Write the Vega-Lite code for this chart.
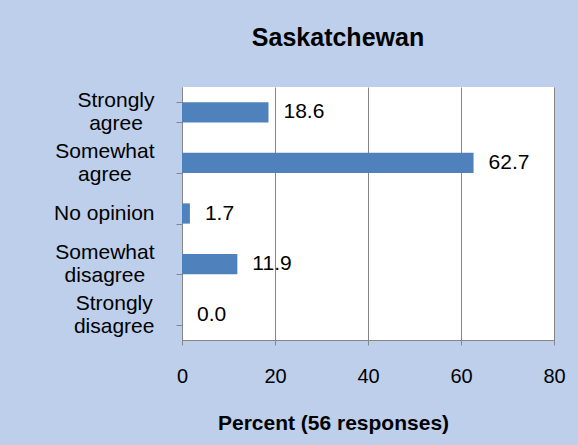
{
  "$schema": "https://vega.github.io/schema/vega-lite/v6.json",
  "autosize": "none",
  "width": 372,
  "height": 253,
  "padding": {"left": 182, "top": 87, "right": 24, "bottom": 105},
  "background": "#bdcfeb",
  "config": {
    "font": "Liberation Sans",
    "view": {"fill": "white", "stroke": null}
  },
  "title": {
    "text": "Saskatchewan",
    "font": "Liberation Sans",
    "fontSize": 25,
    "fontWeight": "bold",
    "color": "black",
    "anchor": "middle",
    "dx": -30,
    "baseline": "alphabetic",
    "offset": 5
  },
  "data": {
    "values": [
      {"response": "Strongly|agree", "percent": 18.6},
      {"response": "Somewhat|agree", "percent": 62.7},
      {"response": "No opinion", "percent": 1.7},
      {"response": "Somewhat|disagree", "percent": 11.9},
      {"response": "Strongly|disagree", "percent": 0.0}
    ]
  },
  "encoding": {
    "y": {
      "field": "response",
      "type": "nominal",
      "sort": null,
      "scale": {"paddingInner": 0.6, "paddingOuter": 0.3},
      "axis": {
        "title": null,
        "labelExpr": "split(datum.label, '|')",
        "labelFontSize": 21,
        "labelColor": "black",
        "labelLineHeight": 23,
        "labelAlign": "center",
        "labelPadding": {
          "condition": [
            {"test": "datum.value == 'Strongly|agree'", "value": 60.5},
            {"test": "datum.value == 'Strongly|disagree'", "value": 62.3},
            {"test": "datum.value == 'No opinion'", "value": 72.2}
          ],
          "value": 71.6
        },
        "labelOffset": {
          "condition": {"test": "datum.value == 'No opinion'", "value": 0},
          "value": -11.5
        },
        "tickBand": "extent",
        "tickSize": 6,
        "tickColor": "#868686",
        "domainColor": "#868686",
        "grid": false
      }
    },
    "x": {
      "field": "percent",
      "type": "quantitative",
      "scale": {"domain": [0, 80], "nice": false},
      "axis": {
        "values": [0, 20, 40, 60, 80],
        "title": "Percent (56 responses)",
        "titleFontSize": 21,
        "titleFontWeight": "bold",
        "titleColor": "black",
        "titleAnchor": "middle",
        "titleX": 151,
        "titleY": 89,
        "titleBaseline": "alphabetic",
        "labelFontSize": 20,
        "labelColor": "black",
        "labelPadding": 21,
        "tickSize": 5,
        "tickColor": "#868686",
        "domainColor": "#868686",
        "gridColor": "#868686",
        "gridOpacity": 1,
        "labelFlush": false
      }
    }
  },
  "layer": [
    {"mark": {"type": "bar", "color": "#4f81bd"}},
    {
      "mark": {"type": "text", "align": "left", "baseline": "middle", "dx": 15, "fontSize": 21, "color": "black"},
      "encoding": {"text": {"field": "percent", "type": "quantitative", "format": ".1f"}}
    }
  ]
}
